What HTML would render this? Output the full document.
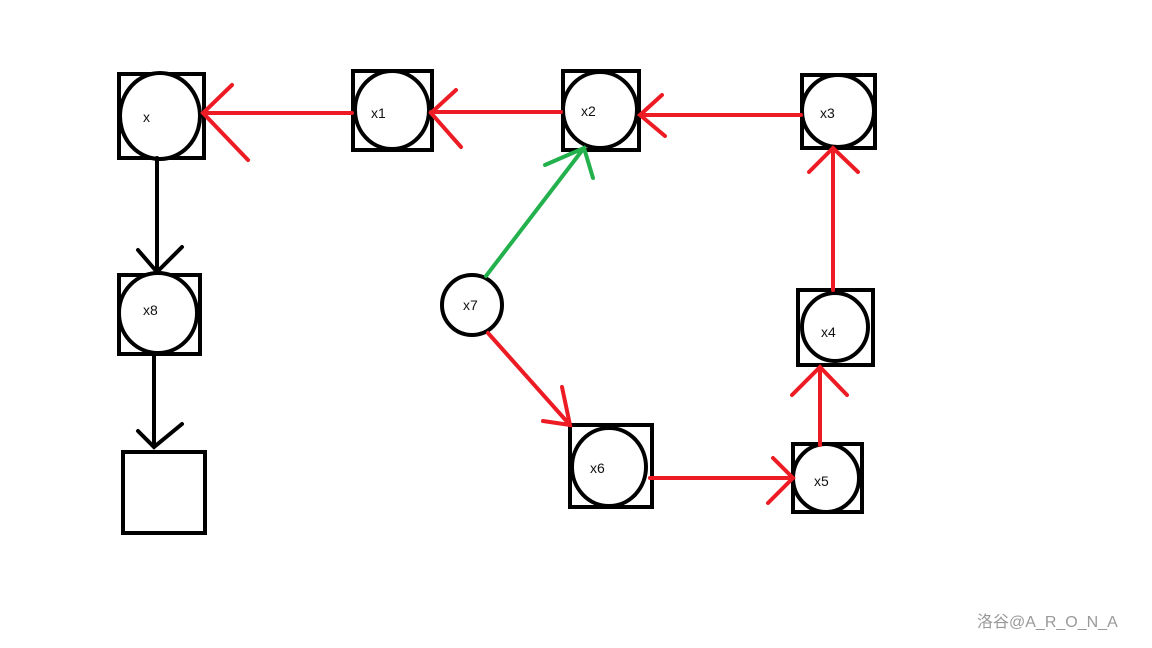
<!DOCTYPE html>
<html><head><meta charset="utf-8"><style>
html,body{margin:0;padding:0;background:#fff;}
svg{display:block}
text{font-family:"Liberation Sans",sans-serif;font-size:14px;fill:#111}
</style></head><body>
<svg width="1152" height="648" viewBox="0 0 1152 648" xmlns="http://www.w3.org/2000/svg">
<g fill="none" stroke="#000" stroke-width="4">
<rect x="119" y="74" width="85" height="84"/><ellipse cx="160" cy="116" rx="40" ry="43" fill="#fff"/>
<rect x="353" y="71" width="79" height="79"/><ellipse cx="392" cy="110" rx="37" ry="39" fill="#fff"/>
<rect x="563" y="71" width="76" height="79"/><ellipse cx="600" cy="110" rx="37" ry="38" fill="#fff"/>
<rect x="802" y="75" width="73" height="73"/><ellipse cx="838" cy="111" rx="36" ry="36" fill="#fff"/>
<rect x="119" y="275" width="81" height="79"/><ellipse cx="158" cy="313" rx="39" ry="40" fill="#fff"/>
<rect x="123" y="452" width="82" height="81"/>
<circle cx="472" cy="305" r="30" fill="#fff"/>
<rect x="570" y="425" width="82" height="82"/><ellipse cx="609" cy="467" rx="37" ry="39" fill="#fff"/>
<rect x="793" y="444" width="69" height="68"/><ellipse cx="826" cy="478" rx="33" ry="34" fill="#fff"/>
<rect x="798" y="290" width="75" height="75"/><ellipse cx="835" cy="327" rx="33" ry="34" fill="#fff"/>
</g>
<g fill="none" stroke="#000" stroke-width="4" stroke-linecap="round">
<path d="M157 158V272M138 250L157 272L182 247"/>
<path d="M154 355V447M138 431L154 447L182 424"/>
</g>
<g fill="none" stroke="#ed1c24" stroke-width="4" stroke-linecap="round">
<path d="M352 113H203M232 85L203 113L248 160"/>
<path d="M561 112H431M456 90L431 113L461 147"/>
<path d="M801 115H640M662 95L640 115L665 136"/>
<path d="M820 445V367M792 395L820 367L847 395"/>
<path d="M833 290V148M809 172L833 148L858 172"/>
<path d="M650 478H793M773 458L793 478L768 503"/>
<path d="M488 333L570 425M543 421L570 425L562 387"/>
</g>
<g fill="none" stroke="#22b14c" stroke-width="4" stroke-linecap="round">
<path d="M486 276L584 148M545 165L584 148L593 178"/>
</g>
<text x="143" y="122">x</text>
<text x="371" y="118">x1</text>
<text x="581" y="116">x2</text>
<text x="820" y="118">x3</text>
<text x="143" y="315">x8</text>
<text x="463" y="310">x7</text>
<text x="590" y="473">x6</text>
<text x="814" y="486">x5</text>
<text x="821" y="337">x4</text>
<text x="977" y="627" style="font-family:'Liberation Sans','Noto Sans CJK SC',sans-serif;font-size:16px;fill:#999">洛谷@A_R_O_N_A</text>
</svg>
</body></html>
